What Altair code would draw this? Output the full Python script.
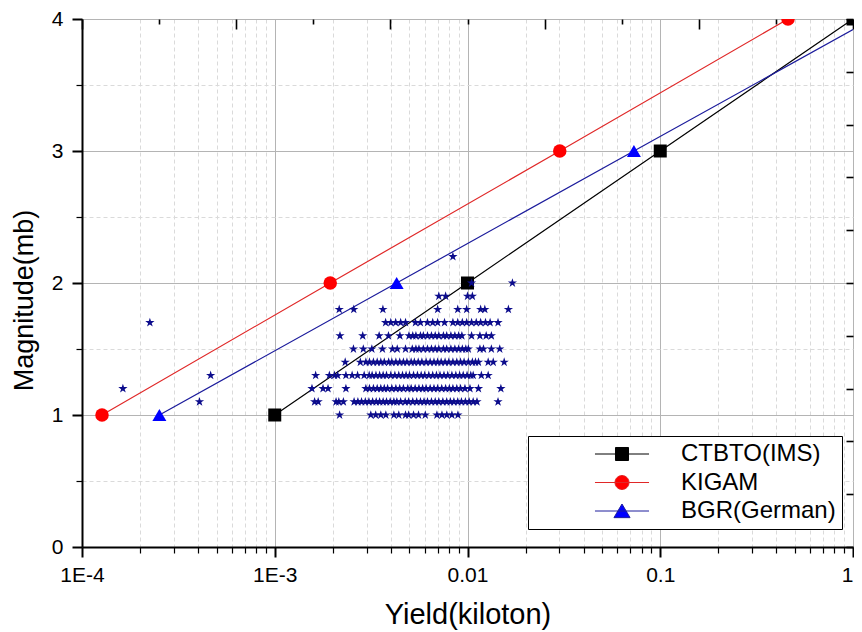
import altair as alt
import pandas as pd

FONT = "Liberation Sans"

# ---------------- model lines ----------------
series_names = ["CTBTO(IMS)", "KIGAM", "BGR(German)"]

ctbto_yield = [0.001, 0.01, 0.1, 1.0]
ctbto_mb = [1, 2, 3, 4]
ctbto_marker = [True, True, True, True]

kigam_yield = [0.000127, 0.00194, 0.0301, 0.46]
kigam_mb = [1, 2, 3, 4]
kigam_marker = [True, True, True, True]

bgr_yield = [0.000252, 0.00429, 0.073, 1.0]
bgr_mb = [1, 2, 3, 3.92]
bgr_marker = [True, True, True, False]

line_colors = ["#000000", "#e02828", "#1c1c9c"]
marker_colors = ["#000000", "#ff0000", "#0000ff"]
marker_shapes = ["square", "circle", "triangle-up"]
marker_sizes = [169, 196, 256]
legend_shapes = [
    "M-3.86,0L3.86,0M-0.93,-0.93L0.93,-0.93L0.93,0.93L-0.93,0.93Z",
    "M-3.86,0L3.86,0M1,0A1,1,0,1,1,-1,0A1,1,0,1,1,1,0Z",
    "M-3.86,0L3.86,0M0,-1.0L1.15,0.95L-1.15,0.95Z",
]

# ---------------- observed events (stars) ----------------
stars_m22 = [0.0084]
stars_m20 = [0.0105, 0.0171]
stars_m19 = [0.0071, 0.0077, 0.0100, 0.0106]
stars_m18 = [0.00216, 0.00257, 0.00364, 0.0070, 0.0089, 0.0099, 0.0117, 0.0123, 0.0163]
stars_m17 = [0.000225, 0.00376, 0.0040, 0.00424, 0.0045, 0.00477, 0.00537, 0.0057,
             0.0062, 0.0066, 0.0070, 0.0076, 0.0084, 0.0089, 0.0094, 0.0099, 0.0105,
             0.0111, 0.0117, 0.0124, 0.0131, 0.0144]
stars_m16 = [0.00218, 0.00286, 0.00348, 0.00389, 0.00446, 0.00497, 0.0052, 0.0054,
             0.0057, 0.0059, 0.0062, 0.0065, 0.0068, 0.0071, 0.0075, 0.0078, 0.0082,
             0.0086, 0.0090, 0.00935, 0.0105, 0.0116, 0.0125, 0.0133]
stars_m15 = [0.00256, 0.00288, 0.00319, 0.00362, 0.00408, 0.00432, 0.00477, 0.00517,
             0.0054, 0.0056, 0.0059, 0.0062, 0.0065, 0.0068, 0.0071, 0.0075, 0.0078,
             0.0082, 0.0086, 0.0090, 0.0094, 0.0098, 0.0101, 0.0116, 0.0121, 0.0133,
             0.0147]
stars_m14 = [0.00232, 0.00278, 0.00297, 0.0031, 0.00325, 0.0034, 0.00355, 0.0037,
             0.0039, 0.00405, 0.00425, 0.00445, 0.00465, 0.00485, 0.0051, 0.0053,
             0.00555, 0.0058, 0.0061, 0.0064, 0.0067, 0.0070, 0.0073, 0.00765, 0.0080,
             0.0084, 0.0088, 0.0092, 0.0096, 0.0101, 0.0106, 0.0110, 0.0114, 0.0128,
             0.0136, 0.0155]
stars_m13 = [0.000465, 0.00163, 0.00192, 0.00204, 0.00212, 0.00234, 0.00252, 0.00269,
             0.00291, 0.00309, 0.0032, 0.00335, 0.0035, 0.00365, 0.0038, 0.0040, 0.0042,
             0.0044, 0.0046, 0.0048, 0.0050, 0.00525, 0.0055, 0.00575, 0.0060, 0.0063,
             0.0066, 0.0069, 0.0072, 0.00755, 0.0079, 0.0083, 0.0087, 0.0091, 0.0095,
             0.00995, 0.0104, 0.0107, 0.0118, 0.0128]
stars_m12 = [0.000163, 0.00156, 0.00178, 0.00189, 0.00234, 0.00297, 0.0031, 0.00325,
             0.0034, 0.00355, 0.0037, 0.00385, 0.00405, 0.00425, 0.00445, 0.00465,
             0.0049, 0.0051, 0.00535, 0.0056, 0.00585, 0.0061, 0.0064, 0.0067, 0.0070,
             0.00735, 0.0077, 0.00805, 0.0084, 0.0088, 0.0092, 0.0097, 0.0103, 0.0114,
             0.0149]
stars_m11 = [0.000407, 0.00161, 0.00168, 0.00208, 0.00215, 0.00227, 0.00258, 0.0027,
             0.00282, 0.00295, 0.00308, 0.00322, 0.00336, 0.0035, 0.00365, 0.0038,
             0.00397, 0.00415, 0.0043, 0.0045, 0.00475, 0.00495, 0.0052, 0.00545,
             0.0057, 0.00595, 0.0062, 0.0065, 0.0068, 0.0071, 0.00745, 0.0078, 0.00815,
             0.0085, 0.0089, 0.0093, 0.00975, 0.0102, 0.0107, 0.0112, 0.0144]
stars_m10 = [0.00217, 0.00315, 0.00334, 0.00355, 0.00377, 0.00415, 0.0044, 0.00477,
             0.00495, 0.00525, 0.00557, 0.00604, 0.00694, 0.00737, 0.00781, 0.0083,
             0.00892]

star_rows = [
    (2.2, stars_m22), (2.0, stars_m20), (1.9, stars_m19), (1.8, stars_m18),
    (1.7, stars_m17), (1.6, stars_m16), (1.5, stars_m15), (1.4, stars_m14),
    (1.3, stars_m13), (1.2, stars_m12), (1.1, stars_m11), (1.0, stars_m10),
]
STAR_PATH = ("M0,-1L0.225,-0.309L0.951,-0.309L0.363,0.118L0.588,0.809L0,0.382"
             "L-0.588,0.809L-0.363,0.118L-0.951,-0.309L-0.225,-0.309Z")

# ---------------- tick values ----------------
x_tick_values = [0.0001, 0.0002, 0.0003, 0.0004, 0.0005, 0.0006, 0.0007, 0.0008, 0.0009,
                 0.001, 0.002, 0.003, 0.004, 0.005, 0.006, 0.007, 0.008, 0.009,
                 0.01, 0.02, 0.03, 0.04, 0.05, 0.06, 0.07, 0.08, 0.09,
                 0.1, 0.2, 0.3, 0.4, 0.5, 0.6, 0.7, 0.8, 0.9, 1.0]
y_tick_values = [0, 0.5, 1, 1.5, 2, 2.5, 3, 3.5, 4]
top_tick_values = [0.0001, 0.0002512, 0.000631, 0.001585, 0.003981, 0.01,
                   0.02512, 0.0631, 0.1585, 0.3981, 1.0]
right_tick_values = [0, 0.4, 0.8, 1.2, 1.6, 2.0, 2.4, 2.8, 3.2, 3.6, 4.0]

# ---------------- tables ----------------
rows = []
for name, ys, ms, mk in [
    (series_names[0], ctbto_yield, ctbto_mb, ctbto_marker),
    (series_names[1], kigam_yield, kigam_mb, kigam_marker),
    (series_names[2], bgr_yield, bgr_mb, bgr_marker),
]:
    for y, m, k in zip(ys, ms, mk):
        rows.append({"series": name, "yield": y, "mb": m, "marker": k})
lines_df = pd.DataFrame(rows)

star_df = pd.DataFrame(
    [{"yield": y, "mb": m} for m, ys in star_rows for y in ys]
)

W, H = 771, 528
xscale = alt.Scale(type="log", domain=[0.0001, 1], nice=False)
yscale = alt.Scale(domain=[0, 4], nice=False, zero=False)

major_x = "abs(log(datum.value)/LN10 - round(log(datum.value)/LN10)) < 0.001"
major_y = "datum.value % 1 === 0"
even_top = "abs(round(log(datum.value)/LN10*2.5)) % 2 === 0"

x_axis = alt.Axis(
    values=x_tick_values,
    labelExpr=("(" + major_x + ") ? (datum.value < 0.00015 ? '1E-4' : datum.value < 0.0015 ? '1E-3'"
               " : datum.value < 0.015 ? '0.01' : datum.value < 0.15 ? '0.1' : '1') : ''"),
    labelAlign={"condition": {"test": "datum.value > 0.5", "value": "right"}, "value": "center"},
    tickSize={"condition": {"test": major_x, "value": 10}, "value": 6},
    tickWidth={"condition": {"test": major_x, "value": 2}, "value": 1.2},
    gridColor={"condition": {"test": major_x, "value": "#b4b4b4"}, "value": "#dadada"},
    gridDash={"condition": {"test": major_x, "value": []}, "value": [4, 3]},
    grid=True, gridWidth=1, tickColor="black",
    domainColor="black", domainWidth=2,
    labelFontSize=21, labelFont=FONT, labelColor="black", labelPadding=7,
    labelFlush=False, labelOverlap=False, labelBound=False,
    titleFontSize=29, titleFont=FONT, titleFontWeight="normal", titleColor="black",
    titlePadding=15,
)
y_axis = alt.Axis(
    values=y_tick_values,
    labelExpr="(" + major_y + ") ? format(datum.value, 'd') : ''",
    tickSize={"condition": {"test": major_y, "value": 10}, "value": 6},
    tickWidth={"condition": {"test": major_y, "value": 2}, "value": 1.2},
    gridColor={"condition": {"test": major_y, "value": "#b4b4b4"}, "value": "#dadada"},
    gridDash={"condition": {"test": major_y, "value": []}, "value": [4, 3]},
    grid=True, gridWidth=1, tickColor="black",
    domainColor="black", domainWidth=2,
    labelFontSize=21, labelFont=FONT, labelColor="black", labelPadding=9,
    labelFlush=False, labelOverlap=False,
    titleFontSize=27, titleFont=FONT, titleFontWeight="normal", titleColor="black",
    titlePadding=13, titleY=281,
)
top_axis = alt.Axis(
    orient="bottom", offset=-H, values=top_tick_values, labels=False, domain=False,
    grid=False, ticks=True, tickColor="black",
    tickSize={"condition": {"test": even_top, "value": 10}, "value": 5},
    tickWidth=1.6,
)
right_axis = alt.Axis(
    orient="left", offset=-W, values=right_tick_values, labels=False, domain=False,
    grid=False, ticks=True, tickColor="black", tickSize=7, tickWidth=1.6,
)

lines = alt.Chart(lines_df).mark_line(strokeWidth=1.2, clip=True).encode(
    x=alt.X("yield:Q", scale=xscale, axis=x_axis, title="Yield(kiloton)"),
    y=alt.Y("mb:Q", scale=yscale, axis=y_axis, title="Magnitude(mb)"),
    color=alt.Color("series:N", scale=alt.Scale(domain=series_names, range=line_colors),
                    legend=None),
    detail="series:N",
)

stars = alt.Chart(star_df).mark_point(
    shape=STAR_PATH, filled=True, size=95, color="#0c0c8c", opacity=1, strokeWidth=0
).encode(
    x=alt.X("yield:Q", scale=xscale, axis=top_axis, title=None),
    y=alt.Y("mb:Q", scale=yscale, axis=right_axis, title=None),
)

markers = alt.Chart(lines_df).transform_filter("datum.marker").mark_point(
    filled=True, opacity=1, strokeWidth=0, clip=True
).encode(
    x=alt.X("yield:Q", scale=xscale, axis=None),
    y=alt.Y("mb:Q", scale=yscale, axis=None),
    fill=alt.Fill("series:N", scale=alt.Scale(domain=series_names, range=marker_colors),
                  legend=None),
    shape=alt.Shape("series:N", scale=alt.Scale(domain=series_names, range=marker_shapes),
                    legend=None),
    size=alt.Size("series:N", scale=alt.Scale(domain=series_names, range=marker_sizes),
                  legend=None),
)

leg = alt.Legend(
    title=" ", titleOrient="left", titleFontSize=10, titlePadding=76,
    orient="none", legendX=446, legendY=417, direction="vertical",
    symbolSize=196, symbolStrokeWidth=1, symbolOpacity=1,
    labelFontSize=24, labelFont=FONT, labelColor="black", labelOffset=47,
    rowPadding=4.5, padding=6, strokeColor="black", fillColor="white",
)
legend_layer = alt.Chart(lines_df).transform_filter("false").mark_point(
    filled=True, opacity=1
).encode(
    x=alt.X("yield:Q", scale=xscale, axis=None),
    y=alt.Y("mb:Q", scale=yscale, axis=None),
    fill=alt.Fill("series:N", scale=alt.Scale(domain=series_names, range=marker_colors),
                  legend=leg, title=" "),
    stroke=alt.Stroke("series:N", scale=alt.Scale(domain=series_names, range=line_colors),
                      legend=leg, title=" "),
    shape=alt.Shape("series:N", scale=alt.Scale(domain=series_names, range=legend_shapes),
                    legend=leg, title=" "),
)

chart = alt.layer(lines, markers, stars, legend_layer).resolve_axis(
    x="independent", y="independent"
).resolve_scale(
    fill="independent", stroke="independent", shape="independent"
).properties(
    width=W, height=H,
    autosize=alt.AutoSizeParams(type="none"),
    padding={"left": 74, "top": 11, "right": 1, "bottom": 84},
).configure_view(
    stroke="black", strokeWidth=2
).configure(
    font=FONT
)

chart.save("out.html", embed_options={"renderer": "svg", "actions": False})
